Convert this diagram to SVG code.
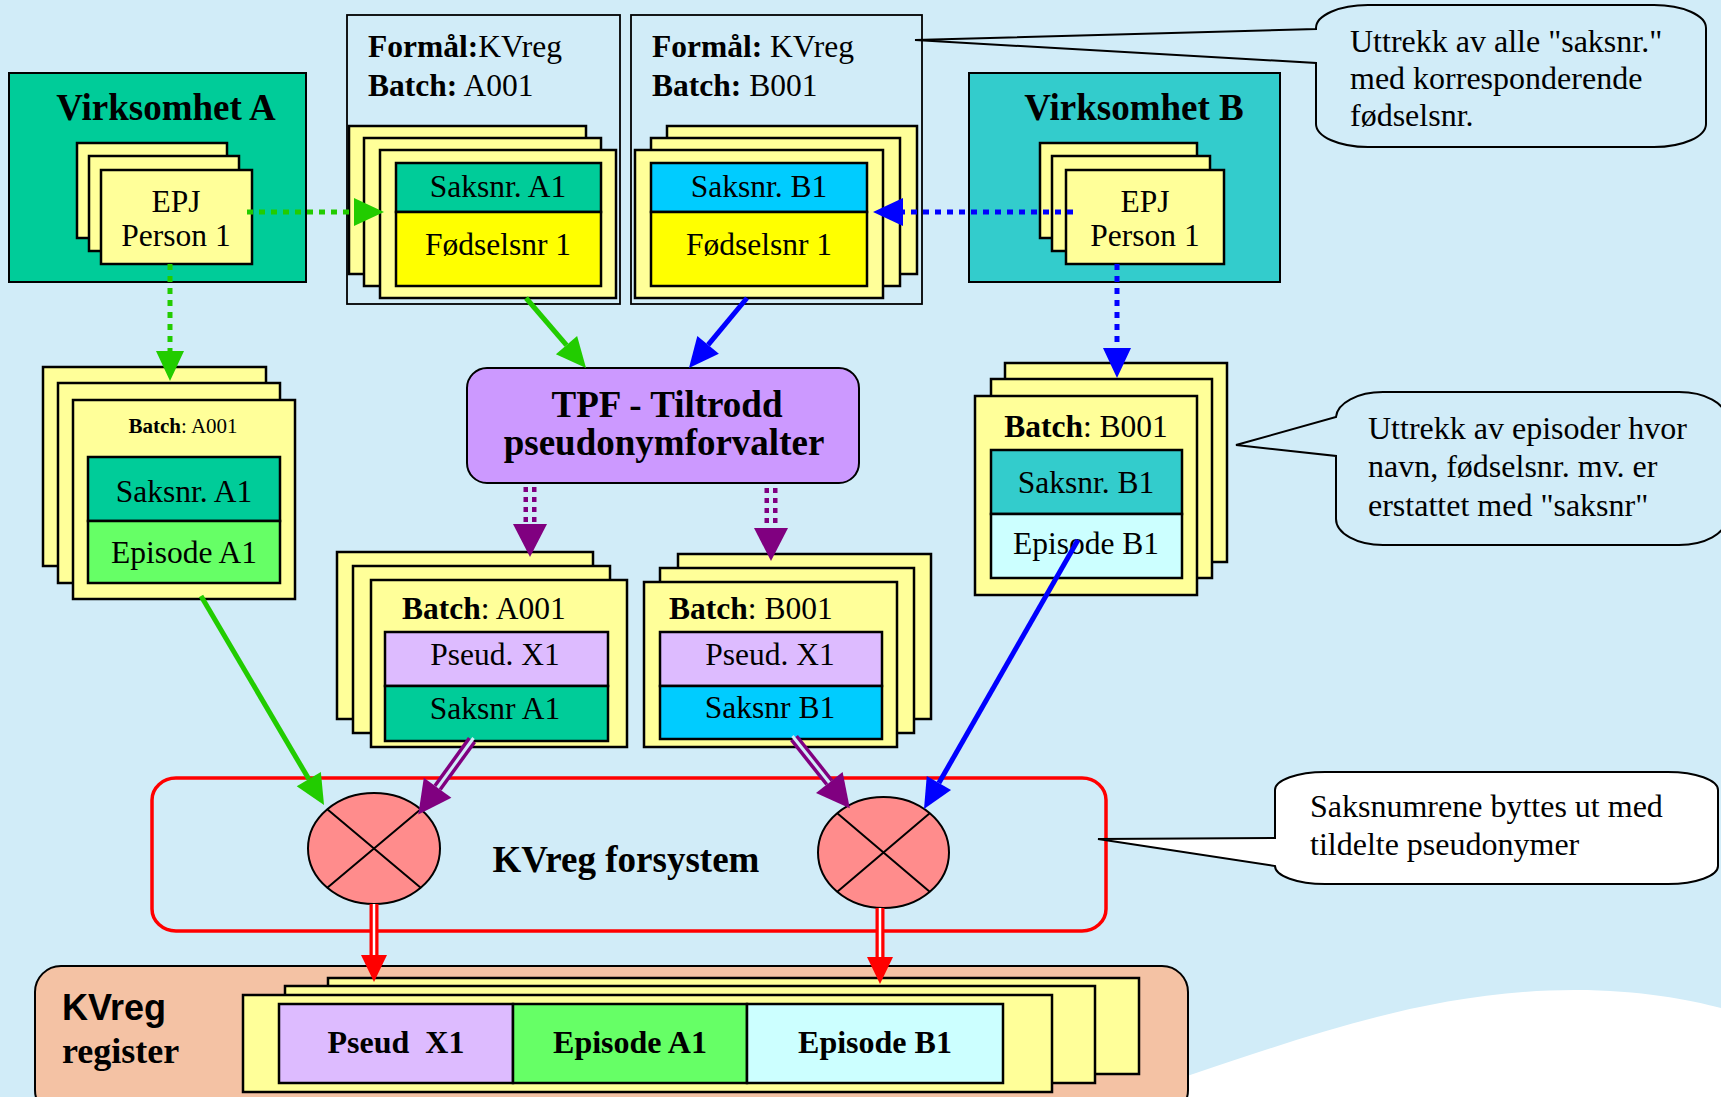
<svg xmlns="http://www.w3.org/2000/svg" width="1721" height="1097" viewBox="0 0 1721 1097">
  <style>
    .t { font-family: "Liberation Serif", "Times New Roman", serif; font-size: 31.5px; fill: #000; }
    .b { font-weight: bold; }
    .c { text-anchor: middle; }
    .sans { font-family: "Liberation Sans", Arial, sans-serif; }
    .card { fill: #FFFF99; stroke: #000; stroke-width: 2.5; }
    .cell { stroke: #000; stroke-width: 2.5; }
    .frame { fill: none; stroke: #000; stroke-width: 1.8; }
    .callout { stroke: #000; stroke-width: 2; }
    .note { font-size: 32px; }
    .gap { stroke: #D1ECF8; fill: none; }
  </style>
  <defs>
    <marker id="ahG" markerUnits="userSpaceOnUse" markerWidth="30" markerHeight="28" refX="0" refY="14" orient="auto" overflow="visible">
      <path d="M0,0 L30,14 L0,28 Z" fill="#22CC00"/>
    </marker>
    <marker id="ahB" markerUnits="userSpaceOnUse" markerWidth="30" markerHeight="28" refX="0" refY="14" orient="auto" overflow="visible">
      <path d="M0,0 L30,14 L0,28 Z" fill="#0000FF"/>
    </marker>
    <marker id="ahP" markerUnits="userSpaceOnUse" markerWidth="33" markerHeight="34" refX="0" refY="17" orient="auto" overflow="visible">
      <path d="M0,0 L33,17 L0,34 Z" fill="#800080"/>
    </marker>
    <marker id="ahR" markerUnits="userSpaceOnUse" markerWidth="27" markerHeight="26" refX="0" refY="13" orient="auto" overflow="visible">
      <path d="M0,0 L27,13 L0,26 Z" fill="#FF0000"/>
    </marker>
  </defs>

  <!-- backdrop -->
  <rect x="0" y="0" width="1721" height="1097" fill="#D1ECF8"/>
  <path d="M1120,1097 C1250,1060 1400,990 1575,990 C1640,990 1690,1000 1721,1008 V1097 Z" fill="#FFFFFF"/>

  <!-- Virksomhet A -->
  <g id="virksomhet-a">
    <rect x="9" y="73" width="297" height="209" fill="#00CC99" stroke="#000" stroke-width="2"/>
    <text class="t b c" x="166" y="120" style="font-size:37px">Virksomhet A</text>
    <rect class="card" x="77" y="143" width="150" height="95"/>
    <rect class="card" x="89" y="156" width="150" height="95"/>
    <rect class="card" x="101" y="170" width="151" height="94"/>
    <text class="t c" x="176" y="212">EPJ</text>
    <text class="t c" x="176" y="246">Person 1</text>
  </g>

  <!-- Virksomhet B -->
  <g id="virksomhet-b">
    <rect x="969" y="73" width="311" height="209" fill="#33CCCC" stroke="#000" stroke-width="2"/>
    <text class="t b c" x="1134" y="120" style="font-size:37px">Virksomhet B</text>
    <rect class="card" x="1040" y="143" width="157" height="95"/>
    <rect class="card" x="1052" y="156" width="158" height="95"/>
    <rect class="card" x="1066" y="170" width="158" height="94"/>
    <text class="t c" x="1145" y="212">EPJ</text>
    <text class="t c" x="1145" y="246">Person 1</text>
  </g>

  <!-- Uttrekk batch A -->
  <g id="uttrekk-a">
    <rect class="frame" x="347" y="15" width="273" height="289"/>
    <text class="t" x="368" y="57"><tspan class="b">Formål:</tspan>KVreg</text>
    <text class="t" x="368" y="96"><tspan class="b">Batch:</tspan> A001</text>
    <rect class="card" x="349" y="126" width="237" height="148"/>
    <rect class="card" x="364" y="138" width="237" height="148"/>
    <rect class="card" x="380" y="150" width="236" height="148"/>
    <rect class="cell" x="396" y="163" width="205" height="49" fill="#00CC99"/>
    <rect class="cell" x="396" y="212" width="205" height="74" fill="#FFFF00"/>
    <text class="t c" x="498" y="197">Saksnr. A1</text>
    <text class="t c" x="498" y="255">Fødselsnr 1</text>
  </g>

  <!-- Uttrekk batch B -->
  <g id="uttrekk-b">
    <rect class="frame" x="631" y="15" width="291" height="289"/>
    <text class="t" x="652" y="57"><tspan class="b">Formål:</tspan> KVreg</text>
    <text class="t" x="652" y="96"><tspan class="b">Batch:</tspan> B001</text>
    <rect class="card" x="667" y="126" width="250" height="148"/>
    <rect class="card" x="651" y="138" width="249" height="148"/>
    <rect class="card" x="635" y="150" width="248" height="148"/>
    <rect class="cell" x="651" y="163" width="216" height="49" fill="#00CCFF"/>
    <rect class="cell" x="651" y="212" width="216" height="74" fill="#FFFF00"/>
    <text class="t c" x="759" y="197">Saksnr. B1</text>
    <text class="t c" x="759" y="255">Fødselsnr 1</text>
  </g>

  <!-- Episodes A -->
  <g id="episoder-a">
    <rect class="card" x="43" y="367" width="223" height="199"/>
    <rect class="card" x="58" y="383" width="222" height="200"/>
    <rect class="card" x="73" y="400" width="222" height="199"/>
    <text class="t c" x="183" y="433" style="font-size:21px"><tspan class="b">Batch</tspan>: A001</text>
    <rect class="cell" x="88" y="457" width="192" height="64" fill="#00CC99"/>
    <rect class="cell" x="88" y="521" width="192" height="62" fill="#66FF66"/>
    <text class="t c" x="184" y="502">Saksnr. A1</text>
    <text class="t c" x="184" y="563">Episode A1</text>
  </g>

  <!-- Episodes B -->
  <g id="episoder-b">
    <rect class="card" x="1005" y="363" width="222" height="199"/>
    <rect class="card" x="991" y="379" width="221" height="199"/>
    <rect class="card" x="975" y="396" width="222" height="199"/>
    <text class="t c" x="1086" y="437"><tspan class="b">Batch</tspan>: B001</text>
    <rect class="cell" x="991" y="450" width="191" height="64" fill="#33CCCC"/>
    <rect class="cell" x="991" y="514" width="191" height="64" fill="#CCFFFF"/>
    <text class="t c" x="1086" y="493">Saksnr. B1</text>
    <text class="t c" x="1086" y="554">Episode B1</text>
  </g>

  <!-- TPF -->
  <g id="tpf">
    <rect x="467" y="368" width="392" height="115" rx="20" ry="20" fill="#CC99FF" stroke="#000" stroke-width="2"/>
    <text class="t b c" x="667" y="417" style="font-size:37px">TPF - Tiltrodd</text>
    <text class="t b c" x="664" y="455" style="font-size:37px">pseudonymforvalter</text>
  </g>

  <!-- Pseudonym batch A -->
  <g id="pseudo-a">
    <rect class="card" x="337" y="552" width="256" height="167"/>
    <rect class="card" x="353" y="566" width="257" height="167"/>
    <rect class="card" x="371" y="580" width="256" height="167"/>
    <text class="t" x="402" y="619"><tspan class="b">Batch</tspan>: A001</text>
    <rect class="cell" x="385" y="632" width="223" height="54" fill="#DDBBFF"/>
    <rect class="cell" x="385" y="686" width="223" height="55" fill="#00CC99"/>
    <text class="t c" x="495" y="665">Pseud. X1</text>
    <text class="t c" x="495" y="719">Saksnr A1</text>
  </g>

  <!-- Pseudonym batch B -->
  <g id="pseudo-b">
    <rect class="card" x="678" y="554" width="253" height="165"/>
    <rect class="card" x="660" y="568" width="254" height="165"/>
    <rect class="card" x="644" y="582" width="253" height="165"/>
    <text class="t" x="669" y="619"><tspan class="b">Batch</tspan>: B001</text>
    <rect class="cell" x="660" y="632" width="222" height="54" fill="#DDBBFF"/>
    <rect class="cell" x="660" y="686" width="222" height="53" fill="#00CCFF"/>
    <text class="t c" x="770" y="665">Pseud. X1</text>
    <text class="t c" x="770" y="718">Saksnr B1</text>
  </g>

  <!-- KVreg forsystem -->
  <g id="forsystem">
    <rect x="152" y="778" width="954" height="153" rx="24" ry="22" fill="none" stroke="#FF0000" stroke-width="3.5"/>
    <text class="t b c" x="626" y="872" style="font-size:37px">KVreg forsystem</text>
  </g>
  <g id="kobling-a">
    <ellipse cx="374" cy="848.5" rx="66" ry="55.5" fill="#FF8C8C" stroke="#000" stroke-width="2"/>
    <path d="M327,809 L421,888 M327,888 L421,809" stroke="#000" stroke-width="2"/>
  </g>
  <g id="kobling-b">
    <ellipse cx="883.5" cy="852.5" rx="65.5" ry="55.5" fill="#FF8C8C" stroke="#000" stroke-width="2"/>
    <path d="M837,813 L930,892 M837,892 L930,813" stroke="#000" stroke-width="2"/>
  </g>

  <!-- KVreg register -->
  <g id="register">
    <rect x="35" y="966" width="1153" height="150" rx="26" ry="26" fill="#F4C2A4" stroke="#000" stroke-width="2"/>
    <text class="t b sans" x="62" y="1020" style="font-size:36px">KVreg</text>
    <text class="t b" x="62" y="1063" style="font-size:36px">register</text>
    <rect class="card" x="328" y="978" width="811" height="96"/>
    <rect class="card" x="285" y="986" width="810" height="97"/>
    <rect class="card" x="243" y="995" width="809" height="97"/>
    <rect class="cell" x="279" y="1004" width="234" height="79" fill="#DDBBFF"/>
    <rect class="cell" x="513" y="1004" width="234" height="79" fill="#66FF66"/>
    <rect class="cell" x="747" y="1004" width="256" height="79" fill="#CCFFFF"/>
    <text class="t b c" x="396" y="1053" style="font-size:32px" xml:space="preserve">Pseud  X1</text>
    <text class="t b c" x="630" y="1053" style="font-size:32px">Episode A1</text>
    <text class="t b c" x="875" y="1053" style="font-size:32px">Episode B1</text>
  </g>

  <!-- Callouts -->
  <g id="note-saksnr">
    <path class="callout" fill="#D1ECF8" d="M1368,5 H1654 A52,23 0 0 1 1706,28 V124 A52,23 0 0 1 1654,147 H1368 A52,23 0 0 1 1316,124 V63 L915,40 L1316,29 V28 A52,23 0 0 1 1368,5 Z"/>
    <text class="t note" x="1350" y="52">Uttrekk av alle "saksnr."</text>
    <text class="t note" x="1350" y="89">med korresponderende</text>
    <text class="t note" x="1350" y="126">fødselsnr.</text>
  </g>
  <g id="note-episoder">
    <path class="callout" fill="#D1ECF8" d="M1383,392 H1679 A47,26 0 0 1 1726,418 V519 A47,26 0 0 1 1679,545 H1383 A47,26 0 0 1 1336,519 V456 L1236,445 L1336,417 A47,26 0 0 1 1383,392 Z"/>
    <text class="t note" x="1368" y="439">Uttrekk av episoder hvor</text>
    <text class="t note" x="1368" y="477">navn, fødselsnr. mv. er</text>
    <text class="t note" x="1368" y="516">erstattet med "saksnr"</text>
  </g>
  <g id="note-pseudonym">
    <path class="callout" fill="#FFFFFF" d="M1325,772 H1668 A50,18 0 0 1 1718,790 V866 A50,18 0 0 1 1668,884 H1325 A50,18 0 0 1 1275,866 L1098,839 L1275,838 V790 A50,18 0 0 1 1325,772 Z"/>
    <text class="t note" x="1310" y="817">Saksnumrene byttes ut med</text>
    <text class="t note" x="1310" y="855">tildelte pseudonymer</text>
  </g>

  <!-- Connectors -->
  <g id="connectors" fill="none">
    <!-- dotted extracts from EPJ -->
    <path d="M247,212 H354" stroke="#22CC00" stroke-width="5" stroke-dasharray="6 6" marker-end="url(#ahG)"/>
    <path d="M170,264 V351" stroke="#22CC00" stroke-width="5" stroke-dasharray="6 6" marker-end="url(#ahG)"/>
    <path d="M1073,212 H903" stroke="#0000FF" stroke-width="5" stroke-dasharray="6 6" marker-end="url(#ahB)"/>
    <path d="M1117,264 V348" stroke="#0000FF" stroke-width="5" stroke-dasharray="6 6" marker-end="url(#ahB)"/>

    <!-- batches to TPF -->
    <path d="M526,298 L566.5,345.2" stroke="#22CC00" stroke-width="5" marker-end="url(#ahG)"/>
    <path d="M747,298 L708.1,344.9" stroke="#0000FF" stroke-width="5" marker-end="url(#ahB)"/>

    <!-- TPF to pseudonym batches (double dotted) -->
    <path d="M530,487 V524" stroke="#800080" stroke-width="13" stroke-dasharray="5 5" marker-end="url(#ahP)"/>
    <path class="gap" d="M530,485 V524" stroke-width="4"/>
    <path d="M771,488 V528" stroke="#800080" stroke-width="13" stroke-dasharray="5 5" marker-end="url(#ahP)"/>
    <path class="gap" d="M771,486 V528" stroke-width="4"/>

    <!-- episodes to linkage -->
    <path d="M201,596 L308.8,779.1" stroke="#22CC00" stroke-width="5" marker-end="url(#ahG)"/>
    <path d="M1078,540 L938.9,783" stroke="#0000FF" stroke-width="5" marker-end="url(#ahB)"/>

    <!-- pseudonym batches to linkage (double line) -->
    <path d="M472,740 L437.6,787.7" stroke="#800080" stroke-width="10" marker-end="url(#ahP)"/>
    <path class="gap" d="M473.5,738 L437.6,787.7" stroke-width="3"/>
    <path d="M794,738 L829.3,782.5" stroke="#800080" stroke-width="10" marker-end="url(#ahP)"/>
    <path class="gap" d="M792.5,736 L829.3,782.5" stroke-width="3"/>

    <!-- linkage to register (double line) -->
    <path d="M374,904 V955" stroke="#FF0000" stroke-width="9" marker-end="url(#ahR)"/>
    <path d="M374,904 V955" stroke="#FFFFFF" stroke-width="2.5"/>
    <path d="M880,908 V957" stroke="#FF0000" stroke-width="9" marker-end="url(#ahR)"/>
    <path d="M880,908 V957" stroke="#FFFFFF" stroke-width="2.5"/>
  </g>
</svg>
